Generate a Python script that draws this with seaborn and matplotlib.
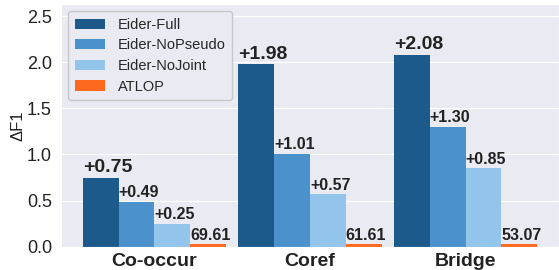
import pandas as pd
import matplotlib
matplotlib.use("Agg")
import matplotlib.pyplot as plt
import seaborn as sns

# ==============================
# Data
# ==============================

categories = ["Co-occur", "Coref", "Bridge"]
models = ["Eider-Full", "Eider-NoPseudo", "Eider-NoJoint", "ATLOP"]

full = [0.75, 1.98, 2.08]
no_pseudo = [0.49, 1.01, 1.30]
no_joint = [0.25, 0.57, 0.85]
atlop = [0.025, 0.025, 0.025]       # baseline, drawn as a thin line
atlop_f1 = ["69.61", "61.61", "53.07"]

colors = ["#1b5a8b", "#4b91cb", "#93c4ea", "#fd6a1f"]

rows = []
for name, vals in zip(models, [full, no_pseudo, no_joint, atlop]):
    for cat, v in zip(categories, vals):
        rows.append({"cat": cat, "model": name, "val": v})
df = pd.DataFrame(rows)

# ==============================
# Plot
# ==============================

sns.set_style("darkgrid")
plt.rcParams["font.family"] = ["Liberation Sans", "DejaVu Sans"]

fig, ax = plt.subplots(figsize=(5.59, 2.70), dpi=100)
sns.barplot(data=df, x="cat", y="val", hue="model", palette=colors,
            width=0.92, saturation=1, linewidth=0, ax=ax)

labels = [
    ["+%.2f" % v for v in full],
    ["+%.2f" % v for v in no_pseudo],
    ["+%.2f" % v for v in no_joint],
    atlop_f1,
]
sizes = [14, 11.5, 11.5, 11.5]
# labels sit left-aligned on the bar's left edge
for cont, lab, fs in zip(ax.containers, labels, sizes):
    for bar, txt in zip(cont, lab):
        ax.annotate(txt, (bar.get_x(), bar.get_height()),
                    xytext=(0, 1), textcoords="offset points",
                    ha="left", va="bottom", fontsize=fs,
                    fontweight="bold", color="#222222")

ax.set_xlim(-0.6, 2.6)
ax.set_ylim(0, 2.63)
ax.set_yticks([0, 0.5, 1.0, 1.5, 2.0, 2.5])
ax.tick_params(axis="y", labelsize=13, pad=3, labelcolor="#222222")
ax.tick_params(axis="x", labelsize=14, pad=1, labelcolor="#222222")
for t in ax.get_xticklabels():
    t.set_fontweight("bold")
ax.set_xlabel("")
ax.set_ylabel("ΔF1", fontsize=12, color="#222222", labelpad=1)

ax.legend(loc="upper left", fontsize=10.5, frameon=True, facecolor="#eaeaf2",
          edgecolor="#c8c8c8", framealpha=1, handlelength=2.1,
          handletextpad=0.85, borderpad=0.45, labelspacing=0.45,
          borderaxespad=0.5)

plt.subplots_adjust(left=0.109, right=1.0, bottom=0.086, top=0.985)
plt.savefig("out.png", dpi=100)
